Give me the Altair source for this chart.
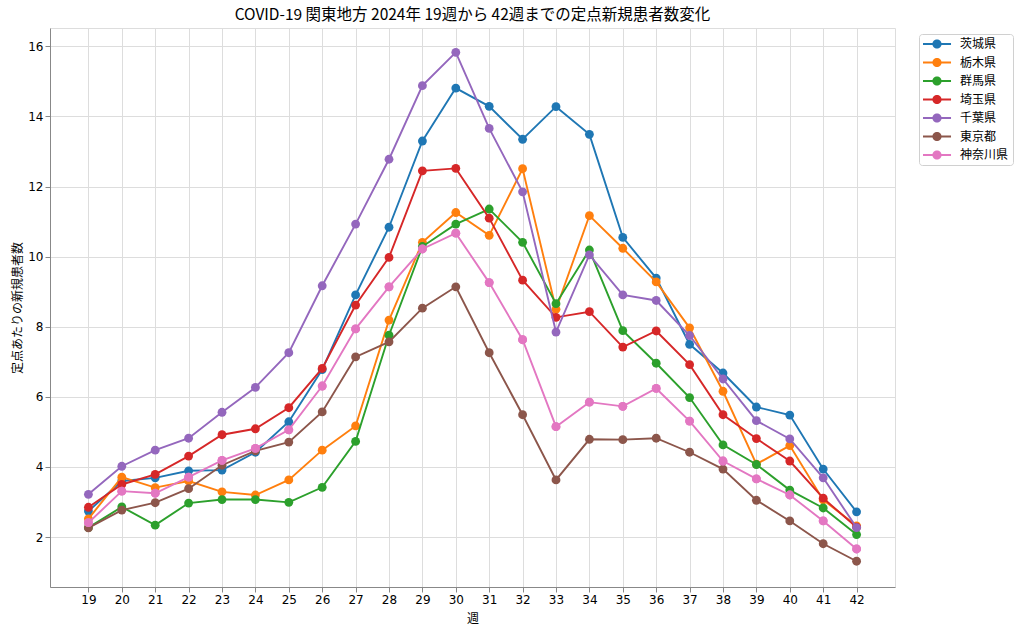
import altair as alt
import pandas as pd

weeks = list(range(19, 43))
prefs = ["茨城県", "栃木県", "群馬県", "埼玉県", "千葉県", "東京都", "神奈川県"]
colors = ["#1f77b4", "#ff7f0e", "#2ca02c", "#d62728", "#9467bd", "#8c564b", "#e377c2"]

ibaraki = [2.74, 3.60, 3.69, 3.89, 3.91, 4.42, 5.29, 6.78, 8.91, 10.84, 13.30, 14.81,
           14.29, 13.35, 14.28, 13.49, 10.55, 9.39, 7.50, 6.68, 5.71, 5.48, 3.94, 2.72]
tochigi = [2.52, 3.71, 3.41, 3.60, 3.29, 3.20, 3.63, 4.48, 5.17, 8.19, 10.41, 11.26,
           10.61, 12.51, 8.50, 11.17, 10.24, 9.28, 7.97, 6.16, 4.08, 4.61, 3.06, 2.32]
gunma = [2.27, 2.86, 2.34, 2.97, 3.07, 3.07, 2.99, 3.42, 4.73, 7.76, 10.29, 10.93,
         11.36, 10.41, 8.66, 10.19, 7.89, 6.96, 5.98, 4.63, 4.07, 3.34, 2.83, 2.07]
saitama = [2.85, 3.50, 3.79, 4.31, 4.92, 5.09, 5.69, 6.81, 8.62, 9.98, 12.45, 12.52,
           11.10, 9.33, 8.27, 8.43, 7.42, 7.88, 6.92, 5.49, 4.81, 4.17, 3.11, 2.28]
chiba = [3.22, 4.02, 4.48, 4.82, 5.56, 6.27, 7.26, 9.17, 10.93, 12.78, 14.88, 15.83,
         13.66, 11.85, 7.85, 10.05, 8.91, 8.75, 7.75, 6.51, 5.32, 4.80, 3.69, 2.27]
tokyo = [2.26, 2.77, 2.98, 3.38, 4.05, 4.46, 4.71, 5.57, 7.14, 7.57, 8.53, 9.14,
         7.26, 5.49, 3.63, 4.79, 4.78, 4.82, 4.42, 3.94, 3.05, 2.46, 1.81, 1.31]
kanagawa = [2.41, 3.31, 3.25, 3.71, 4.19, 4.53, 5.06, 6.31, 7.94, 9.14, 10.22, 10.67,
            9.26, 7.63, 5.15, 5.85, 5.73, 6.24, 5.31, 4.17, 3.66, 3.20, 2.46, 1.66]

series = [ibaraki, tochigi, gunma, saitama, chiba, tokyo, kanagawa]
y_ticks = [2, 4, 6, 8, 10, 12, 14, 16]

rows = []
for p, vals in zip(prefs, series):
    for w, v in zip(weeks, vals):
        rows.append({"week": w, "value": v, "pref": p})
df = pd.DataFrame(rows)

JP = "Noto Sans CJK JP"
TICKFONT = "DejaVu Sans"

x = alt.X("week:Q",
          scale=alt.Scale(domain=[17.85, 43.15], nice=False, zero=False),
          axis=alt.Axis(values=weeks, title="週", format="d", titleFontWeight="normal",
                        titleFont=JP, titleFontSize=12, titlePadding=8,
                        labelFont=TICKFONT, labelFontSize=12))
y = alt.Y("value:Q",
          scale=alt.Scale(domain=[0.575, 16.525], nice=False, zero=False),
          axis=alt.Axis(values=y_ticks, title="定点あたりの新規患者数", format="d",
                        titleFontWeight="normal", titleFont=JP, titleFontSize=12,
                        titlePadding=3, labelFont=TICKFONT, labelFontSize=12))
color_shared = alt.Color("pref:N", scale=alt.Scale(domain=prefs, range=colors), legend=None)

layers = []
for p in prefs:
    base = alt.Chart(df).transform_filter(alt.datum.pref == p)
    layers.append(base.mark_line(strokeWidth=1.9).encode(x=x, y=y, color=color_shared))
    layers.append(base.mark_point(filled=True, size=78, opacity=1).encode(x=x, y=y, color=color_shared))

data_layer = alt.layer(*layers)

LEG_PATH = ("M-1,-0.16H3.67V0.16H-1Z "
            "M2.1,0A0.767,0.767 0 1,1 0.566,0A0.767,0.767 0 1,1 2.1,0Z")

legend_layer = alt.Chart(df).transform_filter(alt.datum.pref == prefs[-1]).mark_point(
    filled=True, size=78, opacity=1
).encode(
    x=x, y=y,
    color=alt.Color("pref:N", scale=alt.Scale(domain=prefs, range=colors),
                    legend=alt.Legend(title=None, orient="none", legendX=869, legendY=6,
                                      symbolType=LEG_PATH, symbolSize=144, symbolStrokeWidth=0,
                                      labelFont=JP, labelFontSize=12, labelColor="black",
                                      labelOffset=25, rowPadding=6.5, padding=4,
                                      strokeColor="#d0d0d0", fillColor="white", cornerRadius=3))
)

chart = alt.layer(data_layer, legend_layer).resolve_scale(color="independent").properties(
    width=845, height=559,
    title=alt.TitleParams("COVID-19 関東地方 2024年 19週から 42週までの定点新規患者数変化",
                          font=JP, fontSize=15.5, fontWeight="normal", color="black",
                          anchor="middle", offset=5),
    autosize=alt.AutoSizeParams(type="none"),
    padding={"left": 50, "top": 28, "right": 129, "bottom": 47},
).configure_view(
    stroke="#222", strokeWidth=1
).configure_axis(
    labelFont=TICKFONT, labelFontSize=12, labelColor="black",
    tickColor="black", tickSize=3.5, tickWidth=0.8, labelPadding=3.5,
    domain=False, grid=True, gridColor="#c6c6c6", gridWidth=1,
    titleFont=JP, titleFontSize=12, titleFontWeight="normal", titleColor="black",
).configure(background="white")

chart.save("out.html", embed_options={"renderer": "svg", "actions": False})
